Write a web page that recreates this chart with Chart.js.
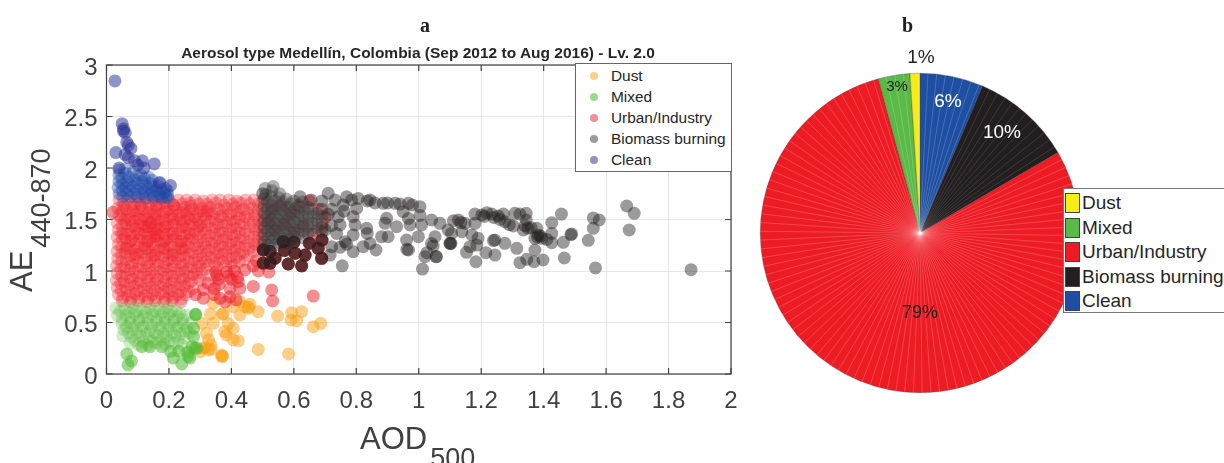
<!DOCTYPE html>
<html lang="en">
<head>
<meta charset="UTF-8">
<title>Aerosol type Medellín</title>
<style>
    html, body { margin: 0; padding: 0; width: 1224px; height: 463px; overflow: hidden; background: #fff; font-family: "Liberation Sans", Arial, sans-serif; }
    canvas { position: absolute; }
    #scatterChart { left: 0; top: 0; }
    #pieChart { left: 740px; top: 30px; }
    .panel { position: absolute; top: 14px; font: bold 20px "Liberation Serif", serif; color: #231f20; }
    #plotTitle { position: absolute; left: 118px; width: 600px; top: 44px; text-align: center; font-size: 15.5px; line-height: 17px; font-weight: bold; color: #262626; white-space: nowrap; }
    .axisLabel { position: absolute; color: #404040; font-size: 31px; line-height: 1; white-space: nowrap; }
    .axisLabel span { font-size: 27px; position: relative; top: 18px; margin-left: 3px; }
    #yLabel { left: 6px; top: 292px; transform-origin: 0 0; transform: rotate(-90deg); }
    #xLabel { left: 360px; top: 423px; }
    #legendA { position: absolute; left: 575px; top: 63px; width: 155px; height: 107px; background: #fff; border: 1px solid #666; font-size: 15.4px; color: #262626; }
    #legendA div { position: absolute; left: 35px; line-height: 21px; white-space: nowrap; }
    #legendA i { position: absolute; left: -21px; top: 6.5px; width: 8px; height: 8px; border-radius: 50%; }
    #legendB { position: absolute; left: 1063px; top: 188px; width: 170px; height: 123px; background: #fff; border: 1px solid #777; font-size: 19px; color: #262626; }
    #legendB div { position: absolute; left: 18px; line-height: 24px; white-space: nowrap; }
    #legendB i { position: absolute; left: -17px; top: 2px; width: 13px; height: 18px; border: 1px solid #444; }
</style>
</head>
<body>
<canvas id="scatterChart" width="838" height="463"></canvas>
<canvas id="pieChart" width="360" height="400"></canvas>
<div class="panel" style="left:420px">a</div>
<div class="panel" style="left:902px">b</div>
<div id="plotTitle">Aerosol type Medellín, Colombia (Sep 2012 to Aug 2016) - Lv. 2.0</div>
<div class="axisLabel" id="yLabel">AE<span>440-870</span></div>
<div class="axisLabel" id="xLabel">AOD<span>500</span></div>
<div id="legendA"></div>
<div id="legendB"></div>
<script src="https://cdn.jsdelivr.net/npm/chart.js"></script>
<script>
    const categories = ['Dust', 'Mixed', 'Urban/Industry', 'Biomass burning', 'Clean'];
    const xTicks = [0, 0.2, 0.4, 0.6, 0.8, 1, 1.2, 1.4, 1.6, 1.8, 2];
    const yTicks = [0, 0.5, 1, 1.5, 2, 2.5, 3];

    // [AOD, AE]. *Dense = the packed clouds, *Loose = points that stand alone
    const dustPoints = [
        [.342,.689],[.333,.583],[.342,.492],[.306,.492],[.32,.395],[.327,.33],[.334,.281],[.31,.25],[.327,.233],[.299,.217],
        [.369,.184],[.369,.168],[.374,.587],[.406,.653],[.427,.702],[.443,.653],[.459,.678],[.454,.637],[.427,.573],[.486,.605],
        [.39,.492],[.406,.443],[.379,.411],[.384,.379],[.406,.33],[.422,.324],[.486,.239],[.583,.194],[.548,.563],[.593,.595],
        [.625,.605],[.591,.524],[.609,.518],[.662,.459],[.686,.492],[.316,.255],[.372,.175],[.37,.58],[.455,.65],[.335,.24]
    ];
    const mixedDense = [
        [.03,.64],[.058,.635],[.085,.645],[.112,.63],[.14,.64],[.168,.635],[.195,.645],[.222,.62],
        [.044,.61],[.072,.6],[.098,.61],[.126,.6],[.154,.61],[.182,.6],[.208,.61],[.236,.59],
        [.035,.57],[.062,.57],[.09,.58],[.118,.56],[.146,.58],[.174,.57],[.2,.58],[.228,.56],[.255,.57],
        [.05,.53],[.076,.54],[.104,.53],[.132,.54],[.16,.53],[.188,.54],[.216,.53],[.244,.53],
        [.05,.49],[.076,.5],[.104,.51],[.132,.49],[.16,.51],[.188,.5],[.216,.51],[.244,.49],[.27,.5],
        [.064,.46],[.09,.47],[.118,.46],[.146,.47],[.174,.46],[.202,.47],[.23,.46],[.258,.45],
        [.056,.43],[.084,.43],[.112,.44],[.14,.42],[.168,.44],[.196,.43],[.224,.44],[.252,.42],
        [.07,.4],[.098,.4],[.126,.39],[.154,.4],[.182,.39],[.21,.4],[.238,.39],[.266,.4],
        [.052,.37],[.08,.36],[.108,.37],[.136,.35],[.164,.37],[.192,.36],[.22,.37],[.248,.35],
        [.09,.33],[.118,.32],[.146,.32],[.174,.33],[.202,.32],[.23,.32],
        [.075,.3],[.102,.29],[.13,.28],[.158,.3],[.186,.29],[.214,.3],[.242,.28]
    ];
    const mixedLoose = [
        [.279,.443],[.279,.362],[.274,.265],[.283,.25],[.113,.265],[.139,.265],[.177,.265],[.205,.22],[.232,.22],[.26,.21],[.29,.25],
        [.065,.194],[.08,.127],[.069,.088],[.285,.579],[.286,.575],[.241,.097],[.267,.155],[.214,.155],[.262,.17]
    ];
    const urbanDense = [
        [.04,1.69],[.068,1.69],[.094,1.68],[.122,1.69],[.148,1.69],[.176,1.69],[.202,1.68],[.23,1.69],[.256,1.69],[.284,1.69],[.31,1.68],[.338,1.69],[.364,1.69],[.392,1.69],[.418,1.68],[.446,1.69],[.472,1.69],[.5,1.68],
        [.052,1.65],[.08,1.65],[.106,1.66],[.134,1.65],[.16,1.65],[.188,1.66],[.214,1.64],[.242,1.65],[.268,1.66],[.296,1.65],[.322,1.65],[.35,1.66],[.376,1.64],[.404,1.65],[.43,1.66],[.458,1.65],[.486,1.65],
        [.036,1.61],[.062,1.6],[.09,1.62],[.116,1.6],[.144,1.61],[.17,1.62],[.198,1.6],[.224,1.61],[.252,1.62],[.278,1.6],[.306,1.61],[.332,1.62],[.36,1.6],[.386,1.61],[.414,1.62],[.44,1.6],[.468,1.61],[.498,1.6],
        [.05,1.58],[.076,1.57],[.104,1.58],[.13,1.57],[.158,1.58],[.184,1.57],[.212,1.58],[.238,1.57],[.266,1.58],[.292,1.57],[.32,1.58],[.346,1.57],[.374,1.58],[.4,1.57],[.428,1.58],[.454,1.57],[.484,1.58],
        [.04,1.54],[.066,1.53],[.094,1.55],[.12,1.53],[.148,1.54],[.174,1.55],[.202,1.53],[.228,1.54],[.256,1.55],[.282,1.53],[.31,1.54],[.336,1.55],[.364,1.53],[.39,1.54],[.418,1.55],[.444,1.53],[.474,1.54],[.5,1.53],
        [.048,1.51],[.076,1.5],[.102,1.51],[.13,1.5],[.156,1.51],[.184,1.5],[.21,1.51],[.238,1.5],[.264,1.51],[.292,1.5],[.318,1.51],[.346,1.5],[.372,1.51],[.4,1.5],[.426,1.51],[.456,1.5],[.486,1.5],
        [.034,1.47],[.062,1.46],[.088,1.48],[.116,1.46],[.142,1.47],[.17,1.48],[.196,1.46],[.224,1.47],[.25,1.48],[.278,1.46],[.304,1.47],[.332,1.48],[.358,1.46],[.386,1.47],[.412,1.48],[.44,1.46],[.47,1.47],[.498,1.46],
        [.05,1.44],[.078,1.43],[.104,1.44],[.132,1.43],[.158,1.44],[.186,1.43],[.212,1.44],[.24,1.43],[.266,1.44],[.294,1.43],[.32,1.44],[.348,1.43],[.374,1.44],[.402,1.43],[.428,1.44],[.458,1.43],[.488,1.43],
        [.038,1.4],[.066,1.39],[.092,1.41],[.12,1.39],[.146,1.4],[.174,1.41],[.2,1.39],[.228,1.4],[.254,1.41],[.282,1.39],[.308,1.4],[.336,1.41],[.362,1.39],[.39,1.4],[.416,1.41],[.444,1.39],[.476,1.4],[.5,1.39],
        [.048,1.37],[.076,1.36],[.102,1.37],[.13,1.36],[.156,1.37],[.184,1.36],[.21,1.37],[.238,1.36],[.264,1.37],[.292,1.36],[.318,1.37],[.346,1.36],[.372,1.37],[.4,1.36],[.426,1.37],[.456,1.36],[.488,1.36],
        [.034,1.33],[.06,1.32],[.088,1.34],[.114,1.32],[.142,1.33],[.168,1.34],[.196,1.32],[.222,1.33],[.25,1.34],[.276,1.32],[.304,1.33],[.33,1.34],[.358,1.32],[.384,1.33],[.412,1.34],[.438,1.32],[.472,1.33],[.5,1.32],
        [.05,1.3],[.076,1.29],[.104,1.3],[.13,1.29],[.158,1.3],[.184,1.29],[.212,1.3],[.238,1.29],[.266,1.3],[.292,1.29],[.32,1.3],[.346,1.29],[.374,1.3],[.4,1.29],[.428,1.3],[.456,1.29],[.486,1.29],
        [.038,1.26],[.066,1.25],[.092,1.27],[.12,1.25],[.146,1.26],[.174,1.27],[.2,1.25],[.228,1.26],[.254,1.27],[.282,1.25],[.308,1.26],[.336,1.27],[.362,1.25],[.39,1.26],[.416,1.27],[.444,1.25],[.474,1.26],[.5,1.25],
        [.048,1.23],[.076,1.22],[.102,1.23],[.13,1.22],[.156,1.23],[.184,1.22],[.21,1.23],[.238,1.22],[.264,1.23],[.292,1.22],[.318,1.23],[.346,1.22],[.372,1.23],[.4,1.22],[.426,1.23],[.456,1.22],[.486,1.22],
        [.034,1.19],[.06,1.18],[.088,1.2],[.114,1.18],[.142,1.19],[.168,1.2],[.196,1.18],[.222,1.19],[.25,1.2],[.276,1.18],[.304,1.19],[.33,1.2],[.358,1.18],[.384,1.19],[.412,1.2],[.438,1.18],[.47,1.19],
        [.048,1.16],[.076,1.15],[.102,1.16],[.13,1.15],[.156,1.16],[.184,1.15],[.21,1.16],[.238,1.15],[.264,1.16],[.292,1.15],[.318,1.16],[.346,1.15],[.372,1.16],[.4,1.15],[.426,1.16],[.454,1.15],
        [.036,1.12],[.064,1.11],[.09,1.13],[.118,1.11],[.144,1.12],[.172,1.13],[.198,1.11],[.226,1.12],[.252,1.13],[.28,1.11],[.306,1.12],[.334,1.13],[.36,1.11],[.388,1.12],[.414,1.13],[.442,1.11],
        [.048,1.09],[.076,1.08],[.102,1.09],[.13,1.08],[.156,1.09],[.184,1.08],[.21,1.09],[.238,1.08],[.264,1.09],[.292,1.08],[.318,1.09],[.346,1.08],[.372,1.09],[.4,1.08],[.426,1.09],
        [.032,1.05],[.058,1.04],[.084,1.06],[.112,1.04],[.138,1.05],[.166,1.06],[.192,1.04],[.22,1.05],[.246,1.06],[.274,1.04],[.3,1.05],[.328,1.06],[.354,1.04],[.382,1.05],[.408,1.05],
        [.046,1.02],[.074,1.01],[.1,1.02],[.128,1.01],[.154,1.02],[.182,1.01],[.208,1.02],[.236,1.01],[.262,1.02],[.29,1.01],[.316,1.02],
        [.034,.98],[.062,.97],[.088,.99],[.116,.97],[.142,.98],[.17,.99],[.196,.97],[.224,.98],[.25,.99],[.278,.97],[.304,.98],[.332,.96],
        [.048,.95],[.076,.94],[.102,.95],[.13,.94],[.156,.95],[.184,.94],[.21,.95],[.238,.94],[.264,.95],[.292,.94],
        [.032,.91],[.056,.9],[.084,.92],[.11,.9],[.138,.91],[.164,.92],[.192,.9],[.218,.91],[.246,.92],[.272,.9],[.3,.91],
        [.046,.88],[.074,.87],[.1,.88],[.128,.87],[.154,.88],[.182,.87],[.208,.88],[.236,.87],[.262,.88],
        [.034,.84],[.062,.83],[.088,.85],[.116,.83],[.142,.84],[.17,.85],[.196,.83],[.224,.84],[.25,.85],[.278,.83],
        [.048,.81],[.076,.8],[.102,.81],[.13,.8],[.156,.81],[.184,.8],[.21,.81],[.238,.8],[.264,.8],
        [.038,.77],[.066,.76],[.092,.78],[.12,.76],[.146,.77],[.174,.78],[.2,.76],[.228,.77],[.254,.77],
        [.052,.74],[.08,.73],[.106,.74],[.134,.73],[.16,.74],[.188,.73],[.214,.74],[.24,.73],
        [.05,.71],[.076,.7],[.102,.71],[.13,.7],[.156,.71],[.184,.7],[.21,.71],[.238,.7],
        // brighter core
        [.055,1.63],[.085,1.58],[.11,1.64],[.135,1.57],[.16,1.63],[.19,1.58],[.215,1.64],[.245,1.57],[.27,1.63],[.3,1.58],[.325,1.57],
        [.058,1.5],[.083,1.44],[.108,1.5],[.133,1.43],[.163,1.5],[.188,1.43],[.213,1.5],[.243,1.44],[.268,1.5],[.298,1.44],
        [.053,1.36],[.081,1.3],[.108,1.36],[.133,1.29],[.16,1.36],[.188,1.3],[.213,1.36],[.24,1.29],[.268,1.36],
        [.063,1.22],[.093,1.16],[.123,1.22],[.153,1.15],[.183,1.22],[.213,1.15],[.243,1.22],[.123,1.43],[.143,1.47],[.163,1.4],[.153,1.33]
    ];
    const urbanLoose = [
        [.021,1.57],
        [.48,1.1],[.443,1.01],[.486,1.0],[.52,.99],[.47,1.05],[.35,.99],[.385,.99],[.41,1.0],[.36,.92],[.353,.96],[.39,.95],[.42,.94],
        [.325,.88],[.36,.87],[.4,.92],[.422,.896],[.31,.82],[.345,.83],[.395,.832],[.427,.832],[.285,.77],[.31,.735],[.364,.735],[.395,.75],[.345,.77],
        [.47,.85],[.529,.816],[.532,.709],[.662,.757],[.415,.72],[.38,.7],
        // under the biomass cloud
        [.53,1.6],[.56,1.64],[.59,1.56],[.62,1.62],[.65,1.68],[.68,1.6],[.7,1.52],[.52,1.48],[.54,1.4],[.57,1.46],[.6,1.38],[.63,1.44],[.66,1.36],[.69,1.42],
        [.582,1.068],[.582,1.068],[.625,1.05],[.625,1.05],[.636,1.155],[.636,1.155],[.604,1.173],[.604,1.173],[.678,1.22],[.678,1.22],[.689,1.123],[.689,1.123],
        [.566,1.285],[.566,1.285],[.524,1.077],[.524,1.077],[.502,1.077],[.502,1.077],[.54,1.125],[.54,1.125],[.502,1.204],[.502,1.204],[.524,1.19],[.524,1.19],
        [.57,1.2],[.57,1.2],[.6,1.28],[.6,1.28],[.65,1.27],[.65,1.27],[.69,1.3],[.69,1.3]
    ];
    const biomassDense = [
        [.534,1.82],[.508,1.8],[.53,1.78],[.555,1.75],[.51,1.74],
        [.505,1.7],[.528,1.72],[.552,1.71],[.576,1.7],[.6,1.68],[.628,1.67],
        [.516,1.67],[.54,1.68],[.565,1.67],[.59,1.65],[.615,1.64],[.645,1.62],
        [.505,1.63],[.528,1.64],[.552,1.63],[.578,1.62],[.603,1.61],[.63,1.6],[.66,1.6],[.69,1.6],
        [.516,1.6],[.54,1.6],[.565,1.59],[.59,1.58],[.617,1.57],[.645,1.56],[.675,1.56],
        [.505,1.56],[.528,1.57],[.552,1.56],[.578,1.55],[.603,1.54],[.63,1.53],[.66,1.53],[.69,1.53],
        [.516,1.53],[.54,1.53],[.565,1.52],[.59,1.51],[.617,1.5],[.645,1.5],[.675,1.49],
        [.505,1.49],[.528,1.5],[.552,1.49],[.578,1.48],[.603,1.47],[.63,1.46],[.66,1.46],[.69,1.46],
        [.516,1.46],[.54,1.46],[.565,1.45],[.59,1.44],[.617,1.43],[.645,1.43],[.675,1.42],
        [.505,1.42],[.528,1.43],[.552,1.42],[.578,1.41],[.603,1.4],[.63,1.39],[.66,1.39],[.69,1.38],
        [.516,1.39],[.54,1.39],[.565,1.38],[.59,1.37],[.617,1.36],[.645,1.36],
        [.505,1.35],[.528,1.36],[.552,1.35],[.578,1.34],[.603,1.33],[.63,1.32],
        [.516,1.32],[.54,1.32],[.565,1.31],[.59,1.3],
        [.505,1.28],[.528,1.29],[.552,1.28],[.578,1.27],
        [.516,1.25],[.54,1.25],[.505,1.21]
    ];
    const biomassLoose = [
        [.5,1.75],[.62,1.72],[.655,1.69],[.69,1.68],[.71,1.754],[.732,1.689],[.758,1.64],[.769,1.72],[.806,1.705],[.844,1.689],[.886,1.657],[.924,1.657],[.967,1.657],[1.004,1.625],[.801,1.608],[.79,1.527],[.742,1.527],[.72,1.6],[.76,1.58],
        [.748,1.447],[.737,1.365],[.796,1.447],[.79,1.35],[.72,1.44],[.7,1.4],[.71,1.55],[.95,1.576],[.967,1.51],[1.004,1.54],[.86,1.66],[.9,1.66],[.94,1.65],[.98,1.64],[.835,1.68],[.785,1.69],
        [.582,1.068],[.582,1.068],[.625,1.05],[.625,1.05],[.636,1.155],[.636,1.155],[.604,1.173],[.604,1.173],[.678,1.22],[.678,1.22],[.689,1.123],[.689,1.123],
        [.566,1.285],[.566,1.285],[.524,1.077],[.524,1.077],[.502,1.077],[.502,1.077],[.54,1.125],[.54,1.125],[.502,1.204],[.502,1.204],[.524,1.19],[.524,1.19],
        [.57,1.2],[.57,1.2],[.6,1.28],[.6,1.28],[.65,1.27],[.65,1.27],[.69,1.3],[.69,1.3],
        [.755,1.05],[.721,1.236],[.716,1.155],[.764,1.285],[.769,1.26],[.748,1.23],[.79,1.187],[.822,1.236],[.844,1.268],[.863,1.204],[.835,1.365],[.833,1.414],[.881,1.333],[.902,1.333],[.897,1.512],[.892,1.463],[.929,1.43],[.972,1.447],[.961,1.301],[.967,1.204],[.962,1.21],[.999,1.333],[1.009,1.447],[1.041,1.268],[1.052,1.333],[1.02,1.139],[1.057,1.139],[1.012,1.019],
        [1.041,1.495],[1.068,1.463],
        [1.666,1.631],[1.69,1.56],[1.674,1.398],[1.872,1.013],[1.566,1.03],[1.543,1.298],[1.559,1.414],[1.559,1.515],[1.578,1.495],[1.457,1.553],
        [1.426,1.469],[1.426,1.365],[1.426,1.275],[1.463,1.278],[1.466,1.126],[1.487,1.352],[1.49,1.36],[1.398,1.107],[1.369,1.09],[1.346,1.113],
        [1.324,1.081],[1.372,1.204],[1.314,1.22],[1.276,1.269],[1.244,1.301],[1.239,1.295],[1.244,1.155],[1.215,1.178],[1.183,1.09],[1.153,1.181],
        [1.164,1.236],[1.186,1.252],[1.19,1.317],[1.103,1.269],[1.1,1.27],[1.101,1.265],[1.055,1.14],[1.046,1.242],[1.026,1.178],
        [1.111,1.489],[1.127,1.495],[1.148,1.463],[1.135,1.47],[1.18,1.463],[1.18,1.553],[1.202,1.544],[1.218,1.566],[1.234,1.553],[1.21,1.53],[1.24,1.52],
        [1.255,1.534],[1.271,1.553],[1.276,1.479],[1.26,1.5],[1.303,1.437],[1.29,1.45],[1.308,1.56],[1.324,1.553],[1.344,1.56],[1.344,1.495],[1.335,1.398],[1.35,1.415],[1.36,1.42],[1.34,1.44],
        [1.378,1.415],[1.383,1.35],[1.372,1.317],[1.394,1.317],[1.41,1.307],[1.39,1.34],[1.38,1.33],[1.105,1.365],[1.094,1.398],[1.138,1.381],[1.17,1.35]
    ];
    const cleanDense = [
        [.04,1.98],[.06,1.99],
        [.04,1.93],[.06,1.95],[.085,1.96],[.11,1.93],[.135,1.91],
        [.05,1.9],[.072,1.91],[.097,1.92],[.122,1.9],[.147,1.88],[.17,1.85],
        [.04,1.87],[.065,1.87],[.09,1.88],[.115,1.87],[.14,1.85],[.165,1.82],[.19,1.8],
        [.05,1.84],[.075,1.84],[.1,1.85],[.125,1.83],[.15,1.82],[.175,1.79],[.195,1.78],
        [.037,1.81],[.06,1.81],[.085,1.82],[.11,1.8],[.135,1.8],[.16,1.78],[.185,1.76],
        [.05,1.78],[.072,1.78],[.097,1.79],[.122,1.77],[.147,1.77],[.172,1.75],[.196,1.74],
        [.04,1.75],[.065,1.75],[.09,1.75],[.115,1.75],[.14,1.74],[.165,1.73],[.19,1.72],
        [.052,1.72],[.077,1.72],[.102,1.72],[.127,1.71],[.152,1.72],[.177,1.71],[.197,1.71]
    ];
    const cleanLoose = [
        [.027,2.845],[.05,2.43],[.055,2.38],[.06,2.34],[.054,2.36],[.065,2.25],[.07,2.22],[.078,2.19],[.03,2.15],[.06,2.13],[.07,2.1],[.09,2.07],[.115,2.07],[.1,2.03],[.153,2.04],[.04,2.0],[.12,2.0],[.205,1.83],[.17,1.86]
    ];

    // pie runs clockwise from the top
    const pieLabels = ['Clean', 'Biomass burning', 'Urban/Industry', 'Mixed', 'Dust'];
    const pieValues = [6.4, 10.2, 79.2, 3.2, 1.0];
    const pieTexts = ['6%', '10%', '79%', '3%', '1%'];

    const colors = {
        'Dust': 'rgba(250,160,20,.5)',
        'Mixed': 'rgba(80,185,50,.55)',
        'Urban/Industry': 'rgba(237,28,36,.5)',
        'Biomass burning': 'rgba(35,31,32,.45)',
        'Clean': 'rgba(40,50,150,.52)'
    };
    const denseColors = {
        'Mixed': 'rgba(85,185,55,.27)',
        'Urban/Industry': 'rgba(237,28,36,.3)',
        'Biomass burning': 'rgba(60,60,60,.4)',
        'Clean': 'rgba(30,70,165,.36)'
    };
    const pieColors = { 'Dust': '#f7ec13', 'Mixed': '#5bb947', 'Urban/Industry': '#ed1c24', 'Biomass burning': '#231f20', 'Clean': '#1f4fa2' };

    function toXY(points) {
        return points.map(p => ({ x: p[0], y: p[1] }));
    }

    // MATLAB style box with ticks pointing inwards
    const boxPlugin = {
        id: 'box',
        afterDatasetsDraw(chart) {
            const { ctx, chartArea: a, scales } = chart;
            ctx.save();
            ctx.strokeStyle = '#404040';
            ctx.lineWidth = 1.2;
            ctx.strokeRect(a.left, a.top, a.right - a.left, a.bottom - a.top);
            ctx.beginPath();
            xTicks.forEach(v => {
                const x = scales.x.getPixelForValue(v);
                ctx.moveTo(x, a.bottom); ctx.lineTo(x, a.bottom - 6);
                ctx.moveTo(x, a.top); ctx.lineTo(x, a.top + 6);
            });
            yTicks.forEach(v => {
                const y = scales.y.getPixelForValue(v);
                ctx.moveTo(a.left, y); ctx.lineTo(a.left + 6, y);
                ctx.moveTo(a.right, y); ctx.lineTo(a.right - 6, y);
            });
            ctx.stroke();
            ctx.restore();
        }
    };

    new Chart(document.getElementById('scatterChart'), {
        type: 'scatter',
        data: {
            datasets: [
                { label: 'Dust', data: toXY(dustPoints), backgroundColor: colors['Dust'], order: 6 },
                { label: 'Mixed', data: toXY(mixedDense), backgroundColor: denseColors['Mixed'], order: 3 },
                { label: 'Mixed', data: toXY(mixedLoose), backgroundColor: colors['Mixed'], order: 2 },
                { label: 'Urban/Industry', data: toXY(urbanDense), backgroundColor: denseColors['Urban/Industry'], order: 5 },
                { label: 'Urban/Industry', data: toXY(urbanLoose), backgroundColor: colors['Urban/Industry'], order: 4 },
                { label: 'Biomass burning', data: toXY(biomassDense), backgroundColor: denseColors['Biomass burning'], order: 1.5 },
                { label: 'Biomass burning', data: toXY(biomassLoose), backgroundColor: colors['Biomass burning'], order: 1 },
                { label: 'Clean', data: toXY(cleanDense), backgroundColor: denseColors['Clean'], order: 0.5 },
                { label: 'Clean', data: toXY(cleanLoose), backgroundColor: colors['Clean'], order: 0 }
            ]
        },
        options: {
            responsive: false,
            animation: false,
            events: [],
            layout: { padding: { top: 65, right: 107 } },
            elements: { point: { radius: 6.5, borderWidth: 0 } },
            plugins: {
                legend: { display: false },
                tooltip: { enabled: false }
            },
            scales: {
                x: {
                    type: 'linear', min: 0, max: 2,
                    afterBuildTicks: s => { s.ticks = xTicks.map(v => ({ value: v })); },
                    afterFit: s => { s.height = 89; },
                    grid: { color: '#e6e6e6', drawTicks: false },
                    border: { display: false },
                    ticks: { color: '#404040', font: { family: '"Liberation Sans"', size: 24 }, padding: 13, maxRotation: 0, callback: v => String(v) }
                },
                y: {
                    type: 'linear', min: 0, max: 3,
                    afterBuildTicks: s => { s.ticks = yTicks.map(v => ({ value: v })); },
                    afterFit: s => { s.width = 106.5; },
                    grid: { color: '#e6e6e6', drawTicks: false },
                    border: { display: false },
                    ticks: { color: '#404040', font: { family: '"Liberation Sans"', size: 24 }, padding: 9, labelOffset: 3, callback: v => String(v) }
                }
            }
        },
        plugins: [boxPlugin]
    });

    // faint spokes and percent labels on the pie
    const labelOffsets = [[28, -131], [82, -100], [0, 80], [-23, -146], [1, -175]];
    const labelColors = ['#fff', '#fff', '#231f20', '#231f20', '#231f20'];
    const labelSizes = [19, 19, 18, 15, 19];

    const piePlugin = {
        id: 'pieDetail',
        afterDatasetsDraw(chart) {
            const ctx = chart.ctx;
            const arcs = chart.getDatasetMeta(0).data;
            const cx = arcs[0].x, cy = arcs[0].y;
            ctx.save();
            arcs.forEach((arc, i) => {
                ctx.strokeStyle = pieLabels[i] === 'Biomass burning' ? 'rgba(255,255,255,.2)' : 'rgba(255,255,255,.3)';
                ctx.lineWidth = 0.6;
                ctx.beginPath();
                for (let a = arc.startAngle + 0.05; a < arc.endAngle; a += 0.055) {
                    ctx.moveTo(cx, cy);
                    ctx.lineTo(cx + Math.cos(a) * arc.outerRadius, cy + Math.sin(a) * arc.outerRadius);
                }
                ctx.stroke();
            });
            ctx.textAlign = 'center';
            ctx.textBaseline = 'middle';
            pieTexts.forEach((t, i) => {
                ctx.fillStyle = labelColors[i];
                ctx.font = labelSizes[i] + 'px "Liberation Sans"';
                ctx.fillText(t, cx + labelOffsets[i][0], cy + labelOffsets[i][1]);
            });
            ctx.restore();
        }
    };

    new Chart(document.getElementById('pieChart'), {
        type: 'pie',
        data: {
            labels: pieLabels,
            datasets: [{
                data: pieValues,
                backgroundColor: pieLabels.map(l => pieColors[l]),
                borderColor: 'rgba(70,70,70,.7)',
                borderWidth: 0.5
            }]
        },
        options: {
            responsive: false,
            animation: false,
            events: [],
            layout: { padding: { top: 43, bottom: 37, left: 20, right: 20 } },
            plugins: { legend: { display: false }, tooltip: { enabled: false } }
        },
        plugins: [piePlugin]
    });

    // the two legend boxes
    categories.forEach((name, i) => {
        const a = document.createElement('div');
        a.style.top = (1 + i * 21) + 'px';
        a.innerHTML = '<i style="background:' + colors[name] + '"></i>' + name;
        document.getElementById('legendA').appendChild(a);

        const b = document.createElement('div');
        b.style.top = (2 + i * 24.6) + 'px';
        b.innerHTML = '<i style="background:' + pieColors[name] + '"></i>' + name;
        document.getElementById('legendB').appendChild(b);
    });
</script>
</body>
</html>
